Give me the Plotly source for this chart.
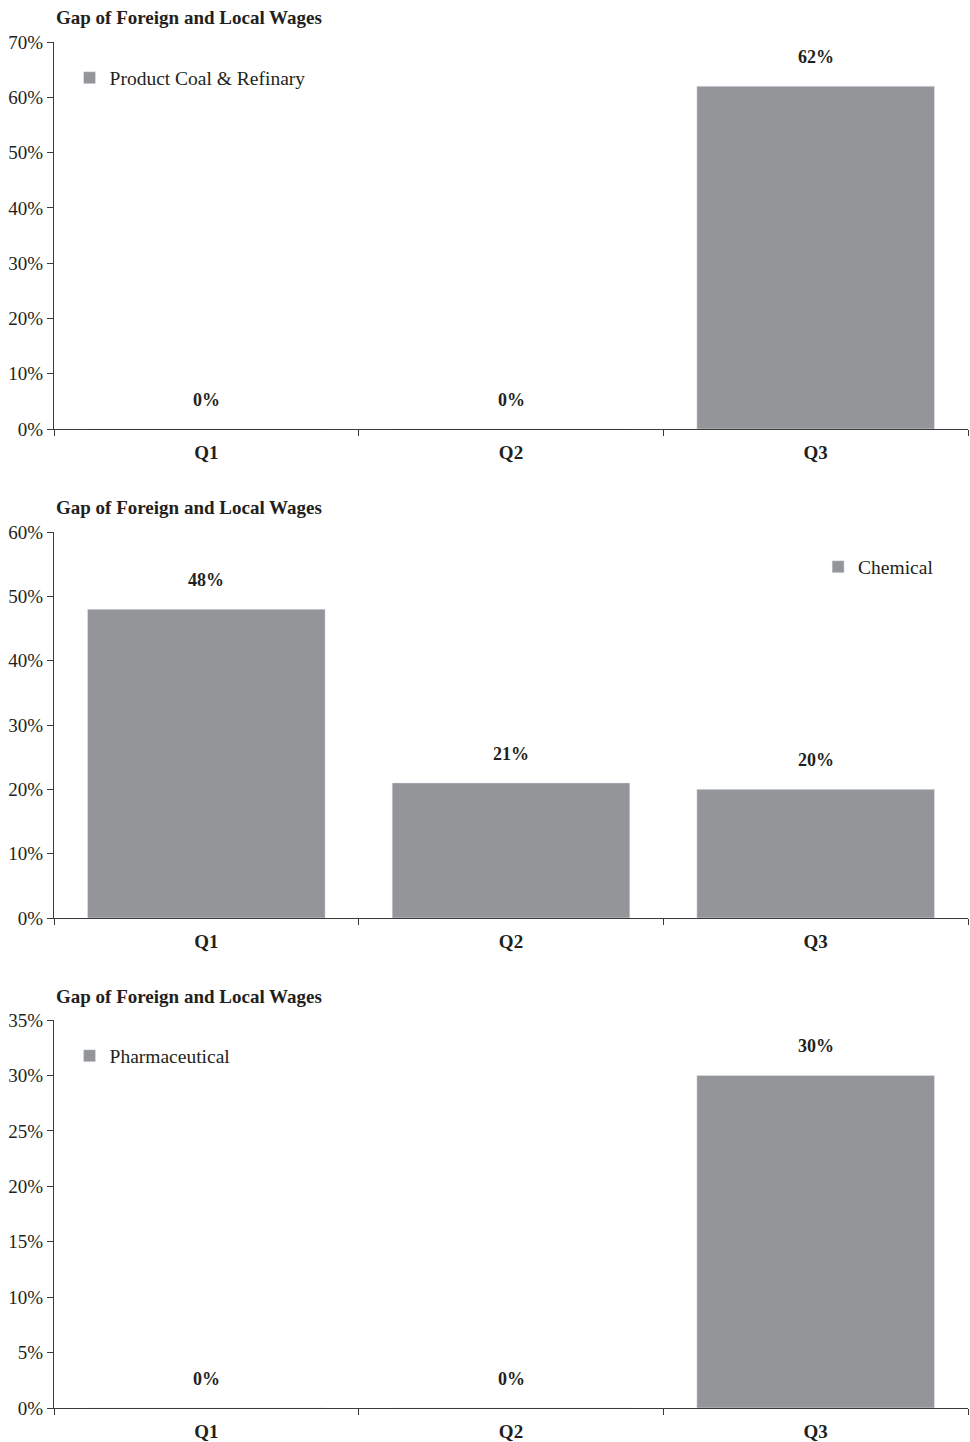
import plotly.graph_objects as go

categories = ["Q1", "Q2", "Q3"]
coal_values = [0, 0, 62]
chemical_values = [48, 21, 20]
pharma_values = [0, 0, 30]
series_names = ["Product Coal & Refinary", "Chemical", "Pharmaceutical"]
chart_title = "Gap of Foreign and Local Wages"
y_maxes = [70, 60, 35]
y_steps = [10, 10, 5]

W, H = 970, 1442
BAR = "#939598"
TXT = "#231f20"
AX = "#3a3a3a"
FONT = "Liberation Serif"

# pixel layout of the three panels (top, bottom)
panels = [(42, 429), (532, 918), (1020, 1408)]
title_px = [18, 507, 996]
legend_pos = [(0.017, 78), (0.836, 567), (0.017, 1056)]

fig = go.Figure()
all_values = [coal_values, chemical_values, pharma_values]

def py(p):
    return 1 - p / H

annotations = []
for i, (vals, name) in enumerate(zip(all_values, series_names)):
    n = "" if i == 0 else str(i + 1)
    fig.add_trace(go.Bar(
        x=categories, y=vals, name=name, marker_color=BAR,
        xaxis="x" + n, yaxis="y" + n,
        legend="legend" + n, showlegend=True,
    ))
    top, bot = panels[i]
    tv = list(range(0, y_maxes[i] + 1, y_steps[i]))
    fig.layout["xaxis" + n] = dict(
        domain=[0, 1], anchor="y" + n, type="category",
        range=[-0.5, 2.5], showline=True, linecolor=AX, linewidth=1,
        ticks="outside", tickson="boundaries", ticklen=6, tickcolor=AX,
        showgrid=False, zeroline=False, ticklabelstandoff=6,
        tickfont=dict(family=FONT, size=19, color=TXT, weight="bold"),
        automargin=False,
    )
    fig.layout["yaxis" + n] = dict(
        domain=[py(bot), py(top)], anchor="x" + n,
        range=[0, y_maxes[i]], tickmode="array", tickvals=tv,
        ticktext=["%d%%" % t for t in tv],
        showline=True, linecolor=AX, linewidth=1,
        ticks="outside", ticklen=6, tickcolor=AX, showgrid=False, zeroline=False,
        tickfont=dict(family=FONT, size=19, color=TXT),
        automargin=False,
    )
    lx, ly = legend_pos[i]
    fig.layout["legend" + n] = dict(
        x=lx, xanchor="left", y=py(ly), yanchor="middle",
        bgcolor="rgba(0,0,0,0)",
        font=dict(family=FONT, size=19.5, color=TXT),
    )
    annotations.append(dict(
        text="<b>" + chart_title + "</b>", xref="paper", yref="paper",
        x=0, xanchor="left", y=py(title_px[i]), yanchor="middle",
        showarrow=False, font=dict(family=FONT, size=19, color=TXT),
    ))
    for c, v in zip(categories, vals):
        annotations.append(dict(
            text="<b>%d%%</b>" % v, x=c, y=v, xref="x" + n, yref="y" + n,
            yanchor="bottom", yshift=17, showarrow=False,
            font=dict(family=FONT, size=18, color=TXT),
        ))

fig.update_layout(
    width=W, height=H, bargap=0.22,
    margin=dict(l=54, r=2, t=0, b=0),
    plot_bgcolor="white", paper_bgcolor="white",
    annotations=annotations,
    font=dict(family=FONT, color=TXT),
)

fig.write_html("out.html")
